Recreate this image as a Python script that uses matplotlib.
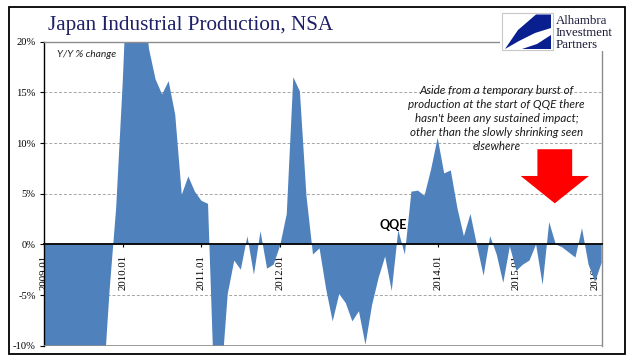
import matplotlib
matplotlib.use("Agg")
import matplotlib.pyplot as plt
import matplotlib.patches as mpatches
import pandas as pd

# Japan industrial production, Y/Y % change (NSA), monthly from 2009.01
yoy = [-30.8, -38.4, -34.2, -31.2, -29.5, -23.4, -22.7, -18.7, -19.3, -14.5,
       -4.5, 3.6, 16.0, 31.3, 31.3, 25.9, 19.3, 16.3, 14.8, 16.1,
       12.8, 4.9, 6.7, 5.2, 4.3, 4.0, -15.3, -13.6, -4.9, -1.6,
       -2.5, 0.8, -3.0, 1.3, -2.4, -2.0, -0.1, 3.0, 16.5, 15.1,
       4.8, -1.0, -0.4, -4.4, -7.6, -4.9, -5.8, -7.6, -6.6, -9.9,
       -6.0, -3.3, -1.2, -4.6, 1.4, -1.0, 5.2, 5.3, 4.8, 7.4,
       10.5, 7.0, 7.3, 3.6, 0.8, 3.0, -0.1, -3.1, 0.8, -1.0,
       -3.8, -0.2, -2.6, -2.0, -1.6, 0.0, -4.0, 2.2, 0.0, -0.3,
       -0.8, -1.3, 1.6, -2.0, -3.7, -1.8]
months = list(pd.period_range("2009-01", periods=len(yoy), freq="M").strftime("%Y.%m"))
y_ticks = [-10, -5, 0, 5, 10, 15, 20]
grid_levels = [-5, 5, 10, 15]
note_lines = ["Aside from a temporary burst of",
              "production at the start of QQE there",
              "hasn't been any sustained impact;",
              "other than the slowly shrinking seen",
              "elsewhere"]
logo_lines = ["Alhambra", "Investment", "Partners"]

W, H = 641, 361
fill_color = "#4F81BD"
border_gray = "#8C8C8C"
serif = "Liberation Serif"

fig = plt.figure(figsize=(W / 100, H / 100), dpi=100)
fig.patch.set_facecolor("white")

# plot area placed in pixel terms of the original
ax = fig.add_axes([44 / W, 1 - 345.7 / H, (601.7 - 44) / W, (345.7 - 41.7) / H])
x = list(range(len(yoy)))
ax.fill_between(x, yoy, 0, color=fill_color, lw=0, zorder=2)
ax.set_xlim(0, len(yoy) - 1)
ax.set_ylim(-10, 20)

for g in grid_levels:
    ax.axhline(g, color="#A6A6A6", lw=0.7, ls=(0, (3, 2)), zorder=1)
ax.axhline(-10, color=border_gray, lw=1.2, zorder=3)

ax.spines["top"].set_color(border_gray)
ax.spines["right"].set_color(border_gray)
ax.spines["top"].set_linewidth(1.0)
ax.spines["right"].set_linewidth(1.0)
ax.spines["left"].set_color("black")
ax.spines["left"].set_linewidth(1.0)
ax.spines["bottom"].set_position(("data", 0))
ax.spines["bottom"].set_color("black")
ax.spines["bottom"].set_linewidth(1.3)
ax.spines["bottom"].set_zorder(4)

year_pos = [i for i, m in enumerate(months) if m.endswith(".01")]
ax.set_xticks(year_pos)
ax.set_xticklabels([months[i] for i in year_pos], rotation=90, family=serif,
                   fontsize=7.8, va="top")
ax.tick_params(axis="x", direction="out", length=2.5, width=0.8, pad=5)
ax.set_yticks(y_ticks)
ax.set_yticklabels([f"{t}%" for t in y_ticks], family=serif, fontsize=7.6)
ax.tick_params(axis="y", direction="out", length=3, width=0.8, pad=3)
for lbl in ax.get_xticklabels():
    lbl.set_zorder(5)

ax.text(0.023, 0.957, "Y/Y % change", transform=ax.transAxes, family="Lato",
        style="italic", fontsize=7.4, color="#222222", va="center", zorder=5)

# QQE marker, placed just above the mid 2013 bump
ax.text(53.3, 1.9, "QQE", family="Lato", weight="bold", fontsize=9,
        ha="center", va="center", zorder=5)

for k, line in enumerate(note_lines):
    ax.text(69.0, 15.2 - k * 1.39, line, family="Lato", style="italic",
            fontsize=8.4, color="#1A1A1A", ha="center", va="center", zorder=5)

arrow = mpatches.FancyArrow(77.85, 9.39, 0, -5.34, width=5.3, head_width=10.4,
                            head_length=2.7, length_includes_head=True,
                            color="#FF0000", lw=0, zorder=5)
ax.add_patch(arrow)

# outer frame and title
fig.patches.append(mpatches.Rectangle((9 / W, 1 - 354 / H), (625 - 9) / W, (354 - 7) / H,
                                      transform=fig.transFigure, fill=False,
                                      ec="black", lw=1.3, zorder=10))
fig.text(48 / W, 1 - 30 / H, "Japan Industrial Production, NSA", family=serif,
         fontsize=15.2, color="#1F2068", va="baseline")

# logo block (white backing, swoosh square, company name)
fig.patches.append(mpatches.Rectangle((500 / W, 1 - 51 / H), 120 / W, 39 / H,
                                      transform=fig.transFigure, fc="white",
                                      ec="none", zorder=11))
fig.patches.append(mpatches.Rectangle((502 / W, 1 - 50 / H), 51 / W, 37 / H,
                                      transform=fig.transFigure, fc="white",
                                      ec="#C8C8C8", lw=0.8, zorder=12))
swoosh_top = [(551, 14.5), (536, 14.5), (518, 30), (505, 49), (519, 41), (535, 33), (551, 28)]
swoosh_low = [(551, 35), (551, 49), (522, 49), (537, 44)]
for pts in (swoosh_top, swoosh_low):
    fig.patches.append(mpatches.Polygon([(px / W, 1 - py / H) for px, py in pts],
                                        closed=True, transform=fig.transFigure,
                                        fc="#0A1F8F", ec="none", zorder=13))
for k, line in enumerate(logo_lines):
    fig.text(556 / W, 1 - (20.5 + 12 * k) / H, line, family=serif, fontsize=9.3,
             color="#1A1A3A", va="center", zorder=13)

fig.savefig("out.png", dpi=100, facecolor="white")
